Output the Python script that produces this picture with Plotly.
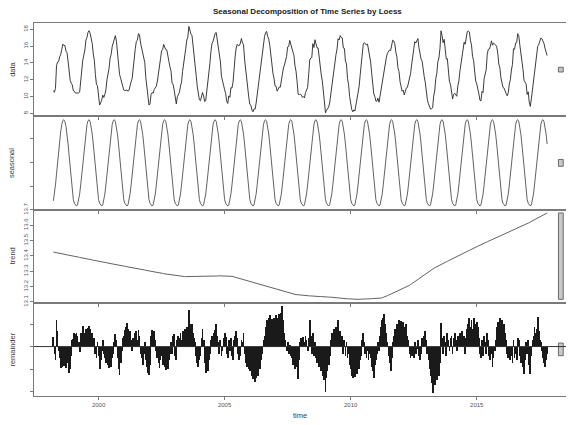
import plotly.graph_objects as go
from plotly.subplots import make_subplots

TITLE = "Seasonal Decomposition of Time Series by Loess"
PANEL_LABELS = ["data", "seasonal", "trend", "remainder"]
X_LABEL = "time"
YEARS = list(range(1998, 2018))
X_TICKS = [2000, 2005, 2010, 2015]
DATA_TICKS = [8, 10, 12, 14, 16, 18]
SEASONAL_TICKS = [-2, 0, 2]
TREND_TICKS = [13.1, 13.2, 13.3, 13.4, 13.5, 13.6, 13.7]
REMAINDER_TICKS = [-2, -1, 0, 1]

# one yearly cycle of the (periodic) seasonal component, 24 steps per year
SEASONAL_CYCLE = [-3.05, -3.35, -3.52, -3.58, -3.48, -3.15, -2.60, -1.85, -0.95, 0.00, 0.95, 1.82,
                  2.55, 3.10, 3.42, 3.50, 3.35, 2.95, 2.32, 1.50, 0.55, -0.45, -1.40, -2.30]

# trend component, 24 steps per year (1998 starts at step 5, 2017 ends at step 19)
TREND_1998 = [13.425, 13.424, 13.422, 13.421, 13.419, 13.418, 13.417, 13.415, 13.414, 13.412, 13.411, 13.410,
              13.408, 13.407, 13.405, 13.404, 13.403, 13.401, 13.400]
TREND_1999 = [13.399, 13.397, 13.396, 13.395, 13.393, 13.392, 13.390, 13.389, 13.388, 13.386, 13.385, 13.383,
              13.382, 13.381, 13.379, 13.378, 13.376, 13.375, 13.374, 13.372, 13.371, 13.369, 13.368, 13.367]
TREND_2000 = [13.365, 13.364, 13.362, 13.361, 13.360, 13.358, 13.357, 13.356, 13.355, 13.353, 13.352, 13.351,
              13.349, 13.348, 13.347, 13.345, 13.344, 13.343, 13.342, 13.340, 13.339, 13.338, 13.336, 13.335]
TREND_2001 = [13.334, 13.332, 13.331, 13.330, 13.328, 13.327, 13.326, 13.325, 13.323, 13.322, 13.321, 13.319,
              13.318, 13.317, 13.316, 13.314, 13.313, 13.312, 13.310, 13.309, 13.308, 13.306, 13.305, 13.304]
TREND_2002 = [13.303, 13.301, 13.300, 13.299, 13.297, 13.296, 13.295, 13.293, 13.292, 13.291, 13.290, 13.288,
              13.287, 13.286, 13.284, 13.283, 13.282, 13.280, 13.279, 13.278, 13.277, 13.275, 13.274, 13.273]
TREND_2003 = [13.271, 13.270, 13.269, 13.268, 13.267, 13.266, 13.265, 13.265, 13.265, 13.265, 13.265, 13.265,
              13.265, 13.265, 13.265, 13.266, 13.266, 13.266, 13.266, 13.266, 13.266, 13.266, 13.267, 13.267]
TREND_2004 = [13.267, 13.267, 13.267, 13.267, 13.267, 13.268, 13.268, 13.268, 13.268, 13.268, 13.268, 13.268,
              13.269, 13.269, 13.269, 13.269, 13.269, 13.269, 13.270, 13.270, 13.270, 13.270, 13.270, 13.270]
TREND_2005 = [13.270, 13.270, 13.270, 13.270, 13.270, 13.269, 13.268, 13.267, 13.265, 13.263, 13.261, 13.259,
              13.257, 13.255, 13.253, 13.251, 13.249, 13.247, 13.245, 13.243, 13.241, 13.239, 13.237, 13.235]
TREND_2006 = [13.233, 13.231, 13.229, 13.227, 13.225, 13.223, 13.221, 13.218, 13.216, 13.214, 13.212, 13.210,
              13.208, 13.206, 13.204, 13.202, 13.200, 13.197, 13.195, 13.193, 13.191, 13.189, 13.187, 13.185]
TREND_2007 = [13.183, 13.181, 13.179, 13.177, 13.175, 13.173, 13.171, 13.169, 13.167, 13.165, 13.163, 13.161,
              13.160, 13.158, 13.156, 13.155, 13.153, 13.152, 13.150, 13.149, 13.148, 13.147, 13.146, 13.145]
TREND_2008 = [13.144, 13.143, 13.143, 13.142, 13.142, 13.141, 13.141, 13.140, 13.140, 13.139, 13.139, 13.138,
              13.138, 13.137, 13.137, 13.136, 13.136, 13.135, 13.135, 13.135, 13.134, 13.134, 13.134, 13.133]
TREND_2009 = [13.133, 13.133, 13.132, 13.132, 13.131, 13.131, 13.130, 13.129, 13.129, 13.128, 13.127, 13.127,
              13.126, 13.125, 13.125, 13.124, 13.123, 13.123, 13.122, 13.121, 13.121, 13.120, 13.120, 13.119]
TREND_2010 = [13.119, 13.118, 13.118, 13.117, 13.117, 13.117, 13.117, 13.117, 13.117, 13.118, 13.118, 13.118,
              13.119, 13.119, 13.119, 13.120, 13.120, 13.120, 13.121, 13.121, 13.121, 13.122, 13.122, 13.122]
TREND_2011 = [13.123, 13.123, 13.124, 13.124, 13.124, 13.125, 13.127, 13.129, 13.132, 13.135, 13.138, 13.141,
              13.144, 13.147, 13.150, 13.153, 13.156, 13.159, 13.162, 13.165, 13.168, 13.171, 13.174, 13.177]
TREND_2012 = [13.180, 13.183, 13.186, 13.189, 13.192, 13.195, 13.199, 13.203, 13.208, 13.213, 13.218, 13.223,
              13.228, 13.233, 13.238, 13.243, 13.248, 13.253, 13.258, 13.263, 13.268, 13.273, 13.278, 13.283]
TREND_2013 = [13.288, 13.293, 13.298, 13.303, 13.308, 13.312, 13.316, 13.319, 13.323, 13.326, 13.330, 13.333,
              13.337, 13.340, 13.344, 13.347, 13.351, 13.354, 13.358, 13.361, 13.365, 13.368, 13.372, 13.375]
TREND_2014 = [13.378, 13.382, 13.385, 13.389, 13.392, 13.395, 13.399, 13.402, 13.406, 13.409, 13.412, 13.416,
              13.419, 13.423, 13.426, 13.429, 13.433, 13.436, 13.440, 13.443, 13.446, 13.450, 13.453, 13.457]
TREND_2015 = [13.460, 13.463, 13.466, 13.470, 13.473, 13.476, 13.479, 13.482, 13.486, 13.489, 13.492, 13.495,
              13.498, 13.502, 13.505, 13.508, 13.511, 13.514, 13.518, 13.521, 13.524, 13.527, 13.530, 13.534]
TREND_2016 = [13.537, 13.540, 13.543, 13.546, 13.550, 13.553, 13.556, 13.559, 13.562, 13.565, 13.568, 13.571,
              13.574, 13.577, 13.580, 13.583, 13.586, 13.589, 13.592, 13.595, 13.598, 13.601, 13.604, 13.607]
TREND_2017 = [13.610, 13.614, 13.617, 13.621, 13.625, 13.628, 13.632, 13.636, 13.639, 13.643, 13.647, 13.650,
              13.654, 13.658, 13.661, 13.665, 13.669, 13.672, 13.676, 13.680]

# remainder component, same time steps as the trend
REM_1998 = [0.45, -0.3, -0.6, 1.2, 0.7, -0.2, -0.5, -0.95, -0.9, -0.6, -0.85, -0.7,
            -0.95, -0.5, -0.7, -1.15, -1.0, -0.4, 0.3]
REM_1999 = [0.35, 0.6, 0.55, 0.6, 0.5, 0.2, -0.25, 0.6, 0.55, 0.95, 0.6, 0.35,
            0.8, 0.55, 0.85, 0.95, 0.8, 0.5, 0.6, 0.2, 0.4, -0.3, -0.5, 0.2]
REM_2000 = [-0.4, -1.0, -0.6, -0.2, 0.3, -0.3, -0.5, -0.7, -0.4, -0.8, -0.95, -0.6,
            -0.9, -0.5, -0.3, 0.2, 0.55, 0.3, -0.5, -1.0, -1.25, -0.7, -0.2, 0.4]
REM_2001 = [0.5, 0.75, 0.9, 1.05, 0.8, 0.6, 0.7, 0.3, -0.2, 0.4, 0.2, 0.6,
            0.7, 0.3, 0.75, 0.5, -0.3, -0.5, -0.8, -0.3, 0.2, -0.6, -0.9, -1.15]
REM_2002 = [-1.25, -0.8, 0.5, 0.75, 0.6, 0.7, 0.3, -0.2, -0.5, -0.7, -0.95, -0.6,
            -0.4, -0.8, -0.5, -0.9, -1.05, -0.7, -1.0, -0.6, -0.3, 0.2, -0.3, 0.5]
REM_2003 = [0.55, -0.4, -0.6, 0.3, 0.5, 0.4, 0.6, 0.3, 0.7, 0.5, 0.8, 0.6,
            0.9, 0.7, 1.65, 1.0, 0.8, 1.0, 0.6, 0.4, 0.2, -0.4, -0.7, -0.9]
REM_2004 = [-0.6, -0.4, 0.4, 0.8, 0.3, -0.7, -1.15, -0.9, -1.1, -0.6, -0.3, 0.3,
            0.5, 0.2, 0.6, 0.75, 1.0, 0.5, 0.2, -0.3, 0.3, -0.4, -0.2, 0.4]
REM_2005 = [0.6, 0.45, -0.3, -0.5, 0.3, -0.2, 0.4, -0.4, -0.6, 0.3, 0.5, 0.7,
            0.4, -0.3, -0.6, -0.4, 0.3, 0.2, 0.6, -0.3, -0.7, -0.9, -0.6, -1.0]
REM_2006 = [-1.1, -0.9, -1.3, -1.45, -1.2, -1.55, -1.4, -1.1, -1.3, -0.9, -1.0, -0.6,
            -0.3, 0.3, 0.5, 0.9, 1.2, 1.0, 1.3, 1.4, 1.1, 1.25, 1.0, 1.3]
REM_2007 = [1.15, 1.4, 1.0, 1.3, 1.45, 1.1, 1.5, 1.8, 1.2, 0.6, 0.3, -0.2,
            0.2, -0.3, 0.1, -0.4, -0.5, -0.8, -0.6, -1.0, -0.7, -0.9, -1.45, -0.6]
REM_2008 = [0.2, 0.4, 0.3, 0.45, 0.2, 0.5, 0.3, -0.2, 0.4, 1.2, 0.5, -0.3,
            0.6, -0.4, 0.2, -0.5, -0.7, -0.3, -0.9, -0.6, -1.1, -0.8, -1.3, -1.5]
REM_2009 = [-2.0, -1.4, -1.1, -0.8, -0.4, 0.3, 0.6, 0.5, 0.8, 0.6, 0.9, 0.7,
            1.2, 0.5, 0.7, 0.4, 0.5, -0.3, 0.3, -0.4, 0.2, -0.5, -0.3, -0.8]
REM_2010 = [-1.0, -1.3, -1.4, -1.1, -1.35, -0.9, -1.2, -0.7, -1.0, -0.6, -0.4, 0.3,
            0.6, 0.2, -0.3, -0.5, -0.2, -0.6, -0.3, -0.5, -0.9, -1.1, -1.4, -0.8]
REM_2011 = [-0.6, -0.3, 0.2, -0.2, 0.5, 0.9, 1.2, 1.3, 1.45, 1.0, 0.6, 0.2,
            -0.4, -0.7, -1.1, -0.5, 0.2, 0.5, 0.8, 0.6, 1.0, 0.7, 1.2, 0.9]
REM_2012 = [1.15, 0.8, 1.1, 0.6, 0.9, 1.0, 0.5, 0.3, -0.3, -0.5, -0.4, -0.2,
            -0.5, 0.2, -0.3, -0.1, 0.3, -0.4, -0.6, -0.3, 0.4, 0.2, 0.5, 0.7]
REM_2013 = [0.3, -0.3, -0.6, -1.0, -1.3, -1.6, -2.05, -1.4, -1.7, -1.2, -1.5, -1.0,
            -1.3, -0.7, 1.05, 0.4, -0.3, 0.5, 0.2, -0.4, 0.6, 0.3, -0.2, 0.4]
REM_2014 = [0.5, -0.3, 0.4, 0.6, 0.3, -0.2, 0.5, 0.3, 0.6, 0.4, 0.7, 0.3,
            0.5, -0.3, 0.4, 0.8, 1.0, 1.3, 0.9, 1.2, 0.8, 1.3, 1.0, 0.7]
REM_2015 = [1.1, 0.9, 0.4, -0.3, -0.5, 0.3, -0.4, 0.5, 0.2, -0.3, 0.6, 0.3,
            -0.4, -0.6, -0.3, -0.9, -0.5, -0.2, 0.3, 0.9, 1.1, 0.8, 1.3, 1.0]
REM_2016 = [1.2, 0.9, 1.0, 0.6, 0.3, -0.3, -0.5, -0.2, -0.6, -0.4, -0.7, 0.3,
            -0.5, -0.3, -0.6, 0.4, 0.3, -0.4, -0.7, -0.5, -0.9, -1.2, -0.6, 0.2]
REM_2017 = [-0.3, 0.3, -0.8, -1.2, -0.4, 0.3, 0.5, 0.9, 0.6, 0.8, 1.35, 0.7,
            0.3, 0.2, -0.2, -0.5, -0.7, -0.9, -0.6, -0.3]

TREND_BY_YEAR = [TREND_1998, TREND_1999, TREND_2000, TREND_2001, TREND_2002, TREND_2003, TREND_2004,
                 TREND_2005, TREND_2006, TREND_2007, TREND_2008, TREND_2009, TREND_2010, TREND_2011,
                 TREND_2012, TREND_2013, TREND_2014, TREND_2015, TREND_2016, TREND_2017]
REM_BY_YEAR = [REM_1998, REM_1999, REM_2000, REM_2001, REM_2002, REM_2003, REM_2004, REM_2005,
               REM_2006, REM_2007, REM_2008, REM_2009, REM_2010, REM_2011, REM_2012, REM_2013,
               REM_2014, REM_2015, REM_2016, REM_2017]

# ---- assemble the time series (data = seasonal + trend + remainder) ----
t, seasonal, trend, remainder = [], [], [], []
for year, tr, rm in zip(YEARS, TREND_BY_YEAR, REM_BY_YEAR):
    n = min(len(tr), len(rm))
    first = 24 - n if year == YEARS[0] else 0
    for k in range(n):
        pos = first + k
        t.append(year + pos / 24.0)
        seasonal.append(SEASONAL_CYCLE[pos])
        trend.append(tr[k])
        remainder.append(rm[k])
data = [s + tr + r for s, tr, r in zip(seasonal, trend, remainder)]
components = [data, seasonal, trend, remainder]

FONT = "Liberation Sans, Arial, Helvetica, sans-serif"
LINE_COL = "#7a7a7a"
XRANGE = [1997.44, 2018.54]

fig = make_subplots(rows=4, cols=1, shared_xaxes=True, vertical_spacing=0)

fig.add_trace(go.Scatter(x=t, y=data, mode="lines", line=dict(color="#262626", width=0.9),
                         hoverinfo="skip"), row=1, col=1)
fig.add_trace(go.Scatter(x=t, y=seasonal, mode="lines", line=dict(color="#3a3a3a", width=0.8),
                         hoverinfo="skip"), row=2, col=1)
fig.add_trace(go.Scatter(x=t, y=trend, mode="lines", line=dict(color="#3a3a3a", width=0.8),
                         hoverinfo="skip"), row=3, col=1)
fig.add_trace(go.Bar(x=t, y=remainder, width=0.8 / 24.0,
                     marker=dict(color="#1a1a1a", line=dict(width=0)), hoverinfo="skip"),
              row=4, col=1)

spans = [max(c) - min(c) for c in components]
bar_h = min(spans)
yticks = [DATA_TICKS, SEASONAL_TICKS, TREND_TICKS, REMAINDER_TICKS]
show_labels = [True, False, True, False]

for i, comp in enumerate(components):
    lo, hi = min(comp), max(comp)
    pad = 0.04 * (hi - lo)
    yr = [lo - pad, hi + pad]
    n = i + 1
    fig.update_yaxes(row=n, col=1, range=yr, showline=True, linecolor=LINE_COL, linewidth=1,
                     mirror="ticks", ticks="outside", ticklen=3, tickcolor=LINE_COL,
                     tickvals=yticks[i], showticklabels=show_labels[i], tickangle=-90,
                     tickfont=dict(size=6, color="#555555", family=FONT),
                     showgrid=False, zeroline=False, fixedrange=True)
    fig.update_xaxes(row=n, col=1, range=XRANGE, showline=True, linecolor=LINE_COL, linewidth=1,
                     mirror=True, ticks="outside", ticklen=3, tickcolor=LINE_COL,
                     tickvals=X_TICKS, showticklabels=(n == 4),
                     tickfont=dict(size=6, color="#555555", family=FONT),
                     showgrid=False, zeroline=False)
    # range bar
    c = (lo + hi) / 2.0
    yref = "y" if n == 1 else "y%d" % n
    xref = "x" if n == 1 else "x%d" % n
    fig.add_shape(type="rect", xref=xref, yref=yref, x0=2018.24, x1=2018.43,
                  y0=c - bar_h / 2.0, y1=c + bar_h / 2.0,
                  fillcolor="#c8c8c8", line=dict(color="#6a6a6a", width=1), layer="above")

# zero line in the remainder panel
fig.add_shape(type="line", xref="x4", yref="y4", x0=XRANGE[0], x1=XRANGE[1], y0=0, y1=0,
              line=dict(color="#333333", width=1), layer="above")

annotations = []
for i, lab in enumerate(PANEL_LABELS):
    y_center = 1 - (i + 0.5) / 4.0
    annotations.append(dict(text=lab, xref="paper", yref="paper", x=-0.041, y=y_center,
                            xanchor="center", yanchor="middle", textangle=-90, showarrow=False,
                            font=dict(size=7.5, color="#3c3c3c", family=FONT)))
annotations.append(dict(text="<b>%s</b>" % TITLE, xref="paper", yref="paper", x=0.515, y=1.03,
                        xanchor="center", yanchor="middle", showarrow=False,
                        font=dict(size=8, color="#222222", family=FONT)))
annotations.append(dict(text=X_LABEL, xref="paper", yref="paper", x=0.5, y=-0.051,
                        xanchor="center", yanchor="middle", showarrow=False,
                        font=dict(size=7.5, color="#3c3c3c", family=FONT)))

# the page adds an 8px body margin, so the figure is 8px smaller and shifted by that amount
fig.update_layout(width=566, height=417, margin=dict(l=26, r=4, t=15, b=29),
                  plot_bgcolor="white", paper_bgcolor="white", showlegend=False,
                  bargap=0, annotations=annotations, font=dict(family=FONT))

fig.write_html("out.html")
